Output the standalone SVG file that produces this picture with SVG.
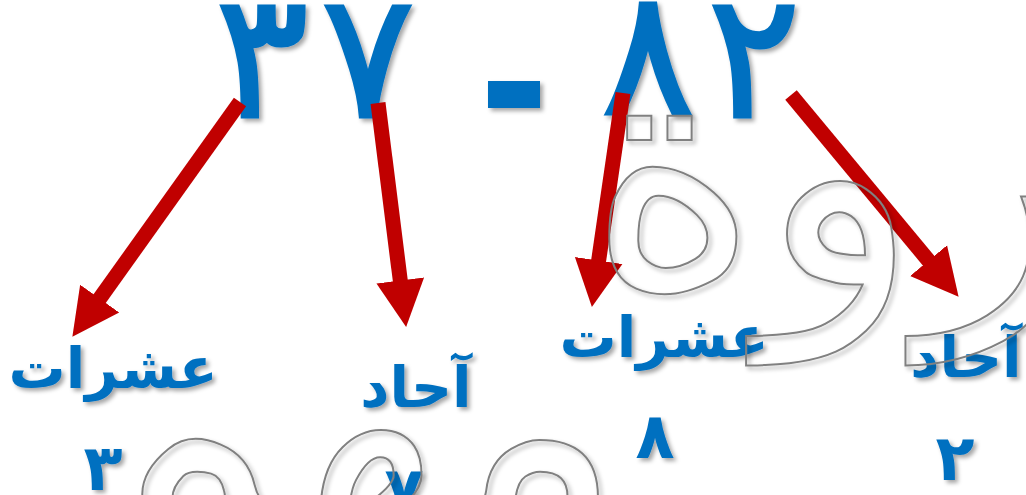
<svg xmlns="http://www.w3.org/2000/svg" width="1026" height="495" viewBox="0 0 1026 495">
<style>
.big{font-family:"DejaVu Sans",sans-serif;font-size:175px;fill:#0070C0;text-anchor:middle;stroke:#0070C0;stroke-width:3}
.lbl{font-family:"DejaVu Sans",sans-serif;font-weight:bold;font-size:57px;fill:#0070C0;text-anchor:middle}
.dig{font-family:"DejaVu Sans",sans-serif;font-weight:bold;font-size:64px;fill:#0070C0;text-anchor:middle}
.ol{font-family:"DejaVu Sans",sans-serif;font-size:330px;fill:none;stroke:#808080;stroke-width:2;text-anchor:middle}
.arr{stroke:#C00000;stroke-width:15;fill:none;marker-end:url(#head)}
</style>
<defs>
<filter id="sh" x="-20%" y="-20%" width="140%" height="140%">
<feDropShadow dx="3" dy="3" stdDeviation="2" flood-color="#000" flood-opacity="0.35"/>
</filter>
<marker id="head" markerUnits="userSpaceOnUse" markerWidth="50" markerHeight="50" refX="1" refY="24" orient="auto" viewBox="0 0 50 48">
<path d="M0,0 L47,24 L0,48 z" fill="#C00000"/>
</marker>
</defs>
<rect width="1026" height="495" fill="#fff"/>
<g id="number" filter="url(#sh)">
<text class="big" x="262" y="117">٣</text>
<text class="big" x="368" y="117">٧</text>
<rect x="488" y="81" width="52" height="27" fill="#0070C0"/>
<text class="big" x="648" y="114">٨</text>
<text class="big" x="754" y="117">٢</text>
</g>
<g id="connectors">
<line class="arr" x1="240" y1="102" x2="99.1" y2="299.4"/>
<line class="arr" x1="378" y1="103" x2="400.4" y2="281.4"/>
<line class="arr" x1="623" y1="93" x2="598.5" y2="261.5"/>
<line class="arr" x1="791" y1="95" x2="929.2" y2="261.4"/>
</g>
<g id="tens3" filter="url(#sh)">
<text class="lbl" x="113" y="388">عشرات</text>
<text class="dig" x="103" y="490">٣</text>
</g>
<g id="ones7" filter="url(#sh)">
<text class="lbl" x="416" y="407">آحاد</text>
<text class="dig" x="404" y="512">٧</text>
</g>
<g id="tens8" filter="url(#sh)">
<text class="lbl" x="664" y="357">عشرات</text>
<text class="dig" x="655" y="458">٨</text>
</g>
<g id="ones2" filter="url(#sh)">
<text class="lbl" x="966" y="377">آحاد</text>
<text class="dig" x="955" y="480">٢</text>
</g>
<g id="watermark" filter="url(#sh)">
<text class="ol" x="890" y="285">ثروة</text>
<text class="ol" x="350" y="540">مهم</text>
</g>
</svg>
